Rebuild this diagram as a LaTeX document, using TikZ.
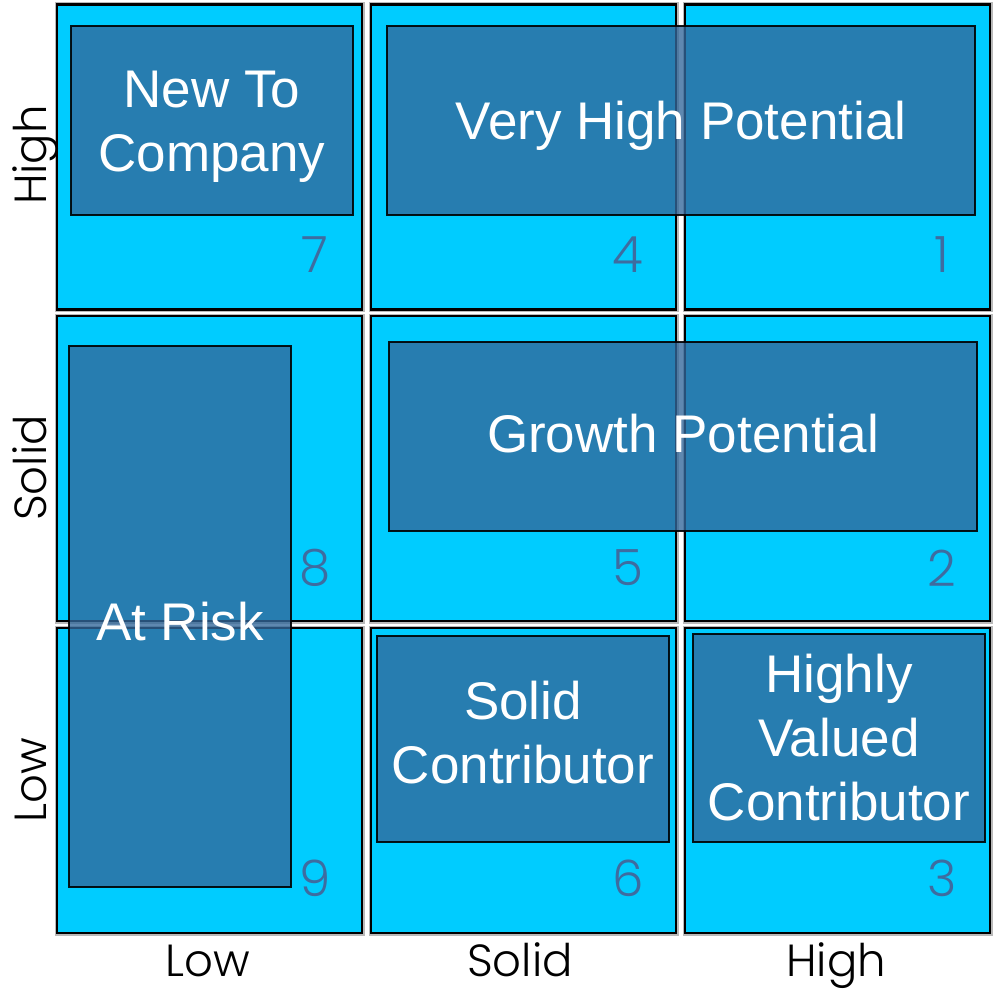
\documentclass[tikz,border=0pt]{standalone}
\usepackage{fontspec}
\setmainfont{Liberation Sans}
\newfontfamily\gothic{Poppins}[UprightFont=* Light]
\usetikzlibrary{positioning}

\definecolor{cellcyan}{RGB}{0,204,255}
\definecolor{boxblue}{RGB}{50,103,154}
\definecolor{numblue}{RGB}{62,108,160}

% shift a line up or down without changing the node size
\newcommand{\nudge}[2]{\raisebox{#1}[\height][\depth]{#2}}

\begin{document}
\begin{tikzpicture}[x=1pt,y=-1pt]
	\tikzset{cell/.style = {shape=rectangle, fill=cellcyan, draw=black,
			line width=2.5pt, preaction={draw=gray!55, line width=5pt},
			minimum width=305pt, minimum height=305pt, inner sep=0pt}}
	\tikzset{box/.style = {shape=rectangle, fill=boxblue, fill opacity=0.78,
			text opacity=1, draw=black, draw opacity=0.9, line width=2pt,
			text=white, align=center, inner sep=0pt,
			font=\fontsize{53}{64}\selectfont}}
	\tikzset{num/.style = {text=numblue, font=\gothic\fontsize{50}{50}\selectfont}}
	\tikzset{axis/.style = {text=black, anchor=base, font=\gothic\fontsize{45}{45}\selectfont}}

	\useasboundingbox (0,0) rectangle (994,990);

	% cells
	\node[cell] (c7) at (209.5,157) {};
	\node[cell] (c4) at (523.5,157) {};
	\node[cell] (c1) at (837.5,157) {};
	\node[cell] (c8) at (209.5,468.5) {};
	\node[cell] (c5) at (523.5,468.5) {};
	\node[cell] (c2) at (837.5,468.5) {};
	\node[cell] (c9) at (209.5,780.5) {};
	\node[cell] (c6) at (523.5,780.5) {};
	\node[cell] (c3) at (837.5,780.5) {};

	% cell numbers
	\node[num] (n7) at (315,255) {7};
	\node[num] (n4) at (628,255) {4};
	\node[num] (n1) at (942,255) {1};
	\node[num] (n8) at (315,568) {8};
	\node[num] (n5) at (628,568) {5};
	\node[num] (n2) at (942,568) {2};
	\node[num] (n9) at (315,878) {9};
	\node[num] (n6) at (628,878) {6};
	\node[num] (n3) at (942,878) {3};

	% boxes
	\node[box, minimum width=282pt, minimum height=189pt] (newco) at (212,120.5) {\nudge{-6pt}{New To}\\\nudge{-6pt}{Company}};
	\node[box, minimum width=588pt, minimum height=189pt] (vhigh) at (681,120.5) {\nudge{-5pt}{Very High Potential}};
	\node[box, minimum width=222pt, minimum height=541pt] (risk) at (180,616.5) {\nudge{-5pt}{At Risk}};
	\node[box, minimum width=588pt, minimum height=189pt] (growth) at (683,436.5) {\nudge{3pt}{Growth Potential}};
	\node[box, minimum width=292pt, minimum height=206pt] (solid) at (523,739) {\nudge{6pt}{Solid}\\\nudge{6pt}{Contributor}};
	\node[box, minimum width=292pt, minimum height=208pt] (valued) at (839,738) {Highly\\Valued\\Contributor};

	% axes
	\node[axis] (xlow) at (208,976) {Low};
	\node[axis] (xsolid) at (520,976) {Solid};
	\node[axis] (xhigh) at (836,976) {High};
	\node[axis, rotate=90] (ylow) at (46,780) {Low};
	\node[axis, rotate=90] (ysolid) at (46,468) {Solid};
	\node[axis, rotate=90] (yhigh) at (46,155) {High};

\end{tikzpicture}
\end{document}
